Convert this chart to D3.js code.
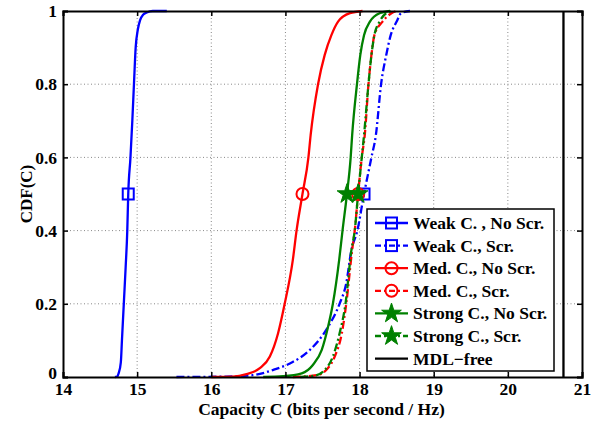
<!DOCTYPE html>
<html>
<head>
<meta charset="utf-8">
<script src="https://cdn.jsdelivr.net/npm/d3@7"></script>
<style>
  body { margin: 0; background: #fff; }
</style>
</head>
<body>
<div id="chart"></div>
<script>
// CDF curves: [capacity, CDF]
const weakNoScr = [[14.70,0],[14.73,0.001],[14.75,0.01],[14.78,0.04],[14.795,0.1],[14.82,0.2],[14.845,0.3],[14.867,0.4],[14.88,0.5],[14.91,0.6],[14.935,0.7],[14.957,0.8],[14.98,0.9],[15.01,0.95],[15.04,0.975],[15.08,0.99],[15.13,0.996],[15.21,1],[15.4,1]];
const weakScr = [[15.53,0],[16.2,0.001],[16.56,0.005],[16.83,0.019],[17.06,0.037],[17.33,0.074],[17.575,0.137],[17.73,0.2],[17.82,0.256],[17.89,0.347],[17.97,0.4],[18.06,0.5],[18.16,0.6],[18.22,0.661],[18.29,0.8],[18.36,0.88],[18.42,0.934],[18.5,0.971],[18.56,0.994],[18.68,1]];
const medNoScr = [[16.0,0],[16.29,0.001],[16.475,0.008],[16.655,0.024],[16.79,0.056],[16.90,0.119],[16.99,0.2],[17.10,0.32],[17.15,0.4],[17.23,0.5],[17.31,0.6],[17.34,0.661],[17.44,0.8],[17.53,0.88],[17.62,0.934],[17.71,0.971],[17.87,0.994],[18.04,1]];
const medScr = [[17.1,0],[17.42,0.005],[17.55,0.019],[17.665,0.056],[17.76,0.119],[17.82,0.2],[17.90,0.347],[17.935,0.4],[17.98,0.5],[18.03,0.6],[18.07,0.661],[18.12,0.8],[18.16,0.88],[18.2,0.934],[18.31,0.971],[18.43,0.994],[18.5,1]];
const strongNoScr = [[16.7,0],[16.97,0.002],[17.22,0.01],[17.37,0.033],[17.49,0.074],[17.575,0.137],[17.64,0.2],[17.725,0.32],[17.77,0.4],[17.83,0.5],[17.88,0.6],[17.90,0.661],[17.965,0.8],[18.01,0.88],[18.06,0.934],[18.14,0.971],[18.27,0.994],[18.41,1]];
const strongScr = [[17.2,0],[17.40,0.004],[17.53,0.019],[17.64,0.056],[17.73,0.119],[17.81,0.2],[17.89,0.347],[17.935,0.4],[17.98,0.5],[18.03,0.6],[18.06,0.661],[18.12,0.8],[18.16,0.88],[18.2,0.934],[18.27,0.971],[18.36,0.994],[18.45,1]];
const mdlFree = [[20.75,0],[20.75,1]];

const xTicks = [14, 15, 16, 17, 18, 19, 20, 21];
const yTicks = [0, 0.2, 0.4, 0.6, 0.8, 1];

const series = [
  { name: "Weak C. , No Scr.", data: weakNoScr, color: "#0000ff", dash: null, marker: "square" },
  { name: "Weak C., Scr.", data: weakScr, color: "#0000ff", dash: "dd", marker: "square" },
  { name: "Med. C., No Scr.", data: medNoScr, color: "#ff0000", dash: null, marker: "circle" },
  { name: "Med. C., Scr.", data: medScr, color: "#ff0000", dash: "dd", marker: "circle" },
  { name: "Strong C., No Scr.", data: strongNoScr, color: "#008000", dash: null, marker: "star" },
  { name: "Strong C., Scr.", data: strongScr, color: "#008000", dash: "dd", marker: "star" },
  { name: "MDL\u2212free", data: mdlFree, color: "#000000", dash: null, marker: null }
];

const FONT = "'Liberation Serif', 'Times New Roman', serif";
const W = 607, H = 422;
const margin = { left: 63, top: 11, right: 25, bottom: 45 };
const iw = W - margin.left - margin.right;
const ih = H - margin.top - margin.bottom;

const svg = d3.select("#chart").append("svg").attr("width", W).attr("height", H)
  .attr("font-family", FONT).attr("font-weight", "bold");
const g = svg.append("g").attr("transform", `translate(${margin.left},${margin.top})`);

const x = d3.scaleLinear().domain([14, 21]).range([0, iw]);
const y = d3.scaleLinear().domain([0, 1]).range([ih, 0]);

// grid
g.selectAll(".gx").data(xTicks.slice(1, -1)).enter().append("line")
  .attr("x1", d => x(d)).attr("x2", d => x(d)).attr("y1", 0).attr("y2", ih)
  .attr("stroke", "#888").attr("stroke-width", 1).attr("stroke-dasharray", "1,2.5");
g.selectAll(".gy").data(yTicks.slice(1, -1)).enter().append("line")
  .attr("y1", d => y(d)).attr("y2", d => y(d)).attr("x1", 0).attr("x2", iw)
  .attr("stroke", "#888").attr("stroke-width", 1).attr("stroke-dasharray", "1,2.5");

// curves
const line = d3.line().x(d => x(d[0])).y(d => y(d[1])).curve(d3.curveMonotoneX);
const ddPattern = "8,3,2,3";

function drawMarker(sel, type, color) {
  if (type === "square") {
    sel.append("rect").attr("x", -5.5).attr("y", -5.5).attr("width", 11).attr("height", 11)
      .attr("fill", "none").attr("stroke", color).attr("stroke-width", 2);
  } else if (type === "circle") {
    sel.append("circle").attr("r", 6).attr("fill", "none").attr("stroke", color).attr("stroke-width", 2);
  } else if (type === "star") {
    sel.append("path").attr("d", d3.symbol().type(d3.symbolStar).size(120)())
      .attr("fill", color).attr("stroke", color).attr("stroke-width", 1);
  }
}

series.forEach(s => {
  g.append("path").datum(s.data)
    .attr("d", line)
    .attr("fill", "none")
    .attr("stroke", s.color)
    .attr("stroke-width", 2.3)
    .attr("stroke-dasharray", s.dash ? ddPattern : null);
  if (s.marker) {
    const mid = s.data.find(d => d[1] === 0.5);
    const m = g.append("g").attr("transform", `translate(${x(mid[0])},${y(mid[1])})`);
    drawMarker(m, s.marker, s.color);
  }
});

// axes frame and ticks
const axB = g.append("g").attr("transform", `translate(0,${ih})`)
  .call(d3.axisBottom(x).tickValues(xTicks).tickSize(-5).tickPadding(6).tickFormat(d3.format("d")));
const axT = g.append("g").call(d3.axisTop(x).tickValues(xTicks).tickSize(-5).tickFormat(""));
const axL = g.append("g")
  .call(d3.axisLeft(y).tickValues(yTicks).tickSize(-5).tickPadding(6).tickFormat(d => d === 0 || d === 1 ? d3.format("d")(d) : d3.format(".1f")(d)));
const axR = g.append("g").attr("transform", `translate(${iw},0)`)
  .call(d3.axisRight(y).tickValues(yTicks).tickSize(-5).tickFormat(""));
[axB, axT, axL, axR].forEach(a => {
  a.attr("font-family", FONT).attr("font-weight", "bold").attr("font-size", 17.5);
  a.select(".domain").attr("stroke", "#000").attr("stroke-width", 2);
  a.selectAll(".tick line").attr("stroke", "#000").attr("stroke-width", 1.5);
  a.selectAll("text").attr("fill", "#000");
});
// lift the "0" label a little so it clears the "14" below it
axL.selectAll(".tick").filter(d => d === 0).select("text").attr("dy", "0.1em");

// axis titles
svg.append("text")
  .attr("x", margin.left + iw / 2 - 1).attr("y", 415)
  .attr("text-anchor", "middle").attr("font-size", 17.5)
  .text("Capacity C (bits per second / Hz)");
svg.append("text")
  .attr("transform", `translate(32,${margin.top + ih / 2}) rotate(-90)`)
  .attr("text-anchor", "middle").attr("font-size", 17)
  .text("CDF(C)");

// legend
const lg = svg.append("g").attr("transform", "translate(367,209)");
lg.append("rect").attr("width", 187).attr("height", 162)
  .attr("fill", "#fff").attr("stroke", "#000").attr("stroke-width", 1.5);
series.forEach((s, i) => {
  const row = lg.append("g").attr("transform", `translate(0,${14 + i * 22.6})`);
  row.append("line").attr("x1", 8).attr("x2", 41).attr("y1", 0).attr("y2", 0)
    .attr("stroke", s.color).attr("stroke-width", 2.3)
    .attr("stroke-dasharray", s.dash ? "6,3,2,3" : null);
  if (s.marker) {
    const m = row.append("g").attr("transform", "translate(24.5,0)");
    drawMarker(m, s.marker, s.color);
  }
  row.append("text").attr("x", 46).attr("y", 6).attr("font-size", 17.5).text(s.name);
});
</script>
</body>
</html>
